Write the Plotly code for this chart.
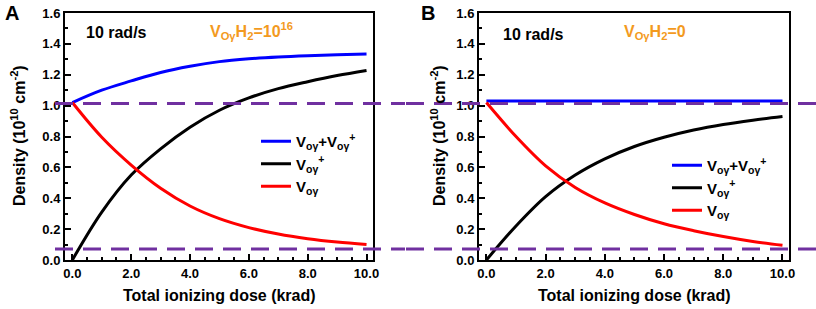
import plotly.graph_objects as go

# ---------------------
# data
# ---------------------
dose = [0, 1, 2, 3, 4, 5, 6, 7, 8, 9, 10]

# panel A : VoyH2 = 1e16
a_total = [1.02, 1.10, 1.16, 1.215, 1.255, 1.285, 1.303, 1.315, 1.323, 1.329, 1.334]
a_plus = [0.0, 0.31, 0.55, 0.72, 0.86, 0.97, 1.05, 1.11, 1.155, 1.195, 1.228]
a_neutral = [1.02, 0.795, 0.615, 0.465, 0.35, 0.268, 0.21, 0.168, 0.138, 0.116, 0.10]

# panel B : VoyH2 = 0
b_total = [1.03, 1.03, 1.03, 1.03, 1.03, 1.03, 1.03, 1.03, 1.03, 1.03, 1.03]
b_plus = [0.0, 0.22, 0.41, 0.55, 0.655, 0.735, 0.795, 0.842, 0.878, 0.906, 0.93]
b_neutral = [1.02, 0.80, 0.61, 0.47, 0.37, 0.295, 0.235, 0.19, 0.152, 0.12, 0.095]

ref_levels = [1.013, 0.072]

names = [
    "V<sub>oγ</sub>+V<sub>oγ</sub><sup>+</sup>",
    "V<sub>oγ</sub><sup>+</sup>",
    "V<sub>oγ</sub>",
]
colors = ["#0000FF", "#000000", "#FF0000"]

x_ticks = [0, 2, 4, 6, 8, 10]
x_ticklabels = ["0.0", "2.0", "4.0", "6.0", "8.0", "10.0"]

FONT = "Arial, Liberation Sans, sans-serif"
PURPLE = "#7030A0"
ORANGE = "#F39A1E"
W, H = 816, 309

fig = go.Figure()

for i, ys in enumerate([a_total, a_plus, a_neutral]):
    fig.add_scatter(
        x=dose, y=ys, mode="lines", line=dict(color=colors[i], width=3, shape="spline"),
        name=names[i], legend="legend", xaxis="x", yaxis="y"
    )

for i, ys in enumerate([b_total, b_plus, b_neutral]):
    fig.add_scatter(
        x=dose, y=ys, mode="lines", line=dict(color=colors[i], width=3, shape="spline"),
        name=names[i], legend="legend2", xaxis="x2", yaxis="y2"
    )


# screen pixel -> paper coords
def px_x(p):
    return p / W


def px_y(p):
    return (H - p) / H


axis_common = dict(
    showline=True, linecolor="black", linewidth=2, mirror=True,
    ticks="inside", ticklen=6, tickwidth=1.5, tickcolor="black",
    showgrid=False, zeroline=False, ticklabeloverflow="allow",
    tickfont=dict(family=FONT, size=13, color="black", weight="bold"),
    automargin=False,
)

x_common = dict(
    axis_common, range=[-0.25, 10.22], tickvals=x_ticks, ticktext=x_ticklabels,
    minor=dict(ticks="inside", ticklen=3, dtick=0.5, tickcolor="black"),
)
y_common = dict(
    axis_common, range=[0, 1.6], dtick=0.2, tickformat=".1f",
    minor=dict(ticks="inside", ticklen=3, dtick=0.1, tickcolor="black"),
)

legend_font = dict(family=FONT, size=15, color="black", weight="bold")

fig.update_layout(
    width=W, height=H,
    margin=dict(l=0, r=0, t=0, b=0),
    paper_bgcolor="white", plot_bgcolor="white",
    xaxis=dict(x_common, domain=[px_x(65), px_x(373)], anchor="y"),
    yaxis=dict(y_common, domain=[px_y(260), px_y(13)], anchor="x"),
    xaxis2=dict(x_common, domain=[px_x(479), px_x(789)], anchor="y2"),
    yaxis2=dict(y_common, domain=[px_y(260), px_y(13)], anchor="x2"),
    legend=dict(
        x=px_x(256), y=px_y(125), xanchor="left", yanchor="top",
        bgcolor="rgba(0,0,0,0)", tracegroupgap=0, font=legend_font,
    ),
    legend2=dict(
        x=px_x(667), y=px_y(149), xanchor="left", yanchor="top",
        bgcolor="rgba(0,0,0,0)", tracegroupgap=0, font=legend_font,
    ),
)

# purple dashed reference lines
for lvl in ref_levels:
    fig.add_shape(type="line", xref="paper", yref="y", x0=px_x(55), x1=px_x(405), y0=lvl, y1=lvl,
                  line=dict(color=PURPLE, width=3, dash="18px,10px"))
    fig.add_shape(type="line", xref="paper", yref="y2", x0=px_x(406), x1=1, y0=lvl, y1=lvl,
                  line=dict(color=PURPLE, width=3, dash="18px,10px"))


# texts
def note(text, x, y, size=16, color="black", angle=0):
    fig.add_annotation(
        text=text, x=px_x(x), y=px_y(y), xref="paper", yref="paper",
        xanchor="center", yanchor="middle",
        showarrow=False, textangle=angle,
        font=dict(family=FONT, size=size, color=color, weight="bold"),
    )


note("A", 12, 13, size=20)
note("B", 428, 13, size=20)
note("10 rad/s", 116, 33)
note("10 rad/s", 533, 35)
note("V<sub>Oγ</sub>H<sub>2</sub>=10<sup>16</sup>", 251, 31, color=ORANGE)
note("V<sub>Oγ</sub>H<sub>2</sub>=0", 655, 33, color=ORANGE)
note("Density (10<sup>10</sup> cm<sup>-2</sup>)", 18, 136, angle=-90)
note("Density (10<sup>10</sup> cm<sup>-2</sup>)", 438, 136, angle=-90)
note("Total ionizing dose (krad)", 219, 295)
note("Total ionizing dose (krad)", 634, 295)

# the default page body has an 8px margin; drop it so the figure sits at the window corner
fig.write_html(
    "out.html",
    config={"displayModeBar": False},
    post_script="document.body.style.margin = '0';",
)
